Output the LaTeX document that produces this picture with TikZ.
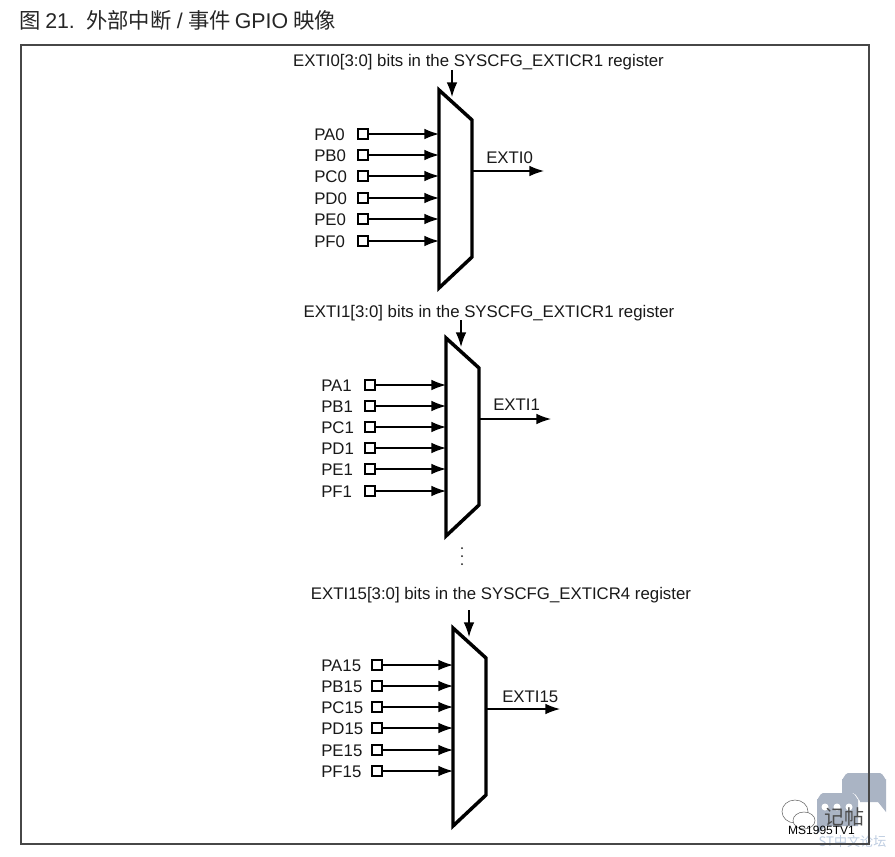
\documentclass[tikz,border=0pt]{standalone}
\usepackage{fontspec}
\setmainfont{Liberation Sans}
\newfontfamily\cjk{Noto Sans CJK SC}
\usetikzlibrary{arrows.meta}
\definecolor{framegray}{gray}{0.28}
\definecolor{bubble}{RGB}{170,180,196}
\definecolor{wmtext}{RGB}{190,205,225}
\tikzset{
  diagram/.style={x=0.75pt,y=-0.75pt},
  lbl/.style={inner sep=0pt,font=\fontsize{12.6}{14}\selectfont,text=black!90},
  portlbl/.style={lbl,anchor=west},
  port/.style={draw=black,line width=1pt,minimum size=7.5pt,inner sep=0pt,fill=white},
  mux/.style={draw=black,line width=2.6pt,miter limit=10},
  sig/.style={draw=black,line width=1pt,-{Latex[length=11pt,width=8pt]}},
}
\newcommand{\muxblock}[9]{%
\coordinate (#1tl) at (#2,#3);
\coordinate (#1tr) at (#2+33,#3+30);
\coordinate (#1br) at (#2+33,#3+167);
\coordinate (#1bl) at (#2,#3+198);
\draw[mux] (#1tl) -- (#1tr) -- (#1br) -- (#1bl) -- cycle;
\foreach \p/\y in {#6}{
  \node[port] (#1p\p) at (#2-76,\y) {};
  \node[portlbl] (#1l\p) at (#5,\y+0.7) {P\p#4};
  \coordinate (#1i\p) at (#2,\y);
  \draw[sig] (#1p\p.east) -- (#1i\p);
}
\coordinate (#1o) at (#2+33,#7);
\coordinate (#1e) at (#8,#7);
\draw[sig] (#1o) -- (#1e);
\coordinate (#1s) at (\selx,#9);
\coordinate (#1d) at (\selx,#9+27);
\draw[sig] (#1s) -- (#1d);
}
\begin{document}
\begin{tikzpicture}[diagram]
\useasboundingbox (0,0) rectangle (895,856);
\fill[white] (0,0) rectangle (895,856);
\node[anchor=west,inner sep=0pt,font=\fontsize{16}{18}\selectfont,text=black!85] (title) at (19,20) {{\cjk 图}\hspace{3.5pt}21.\hspace{8.5pt}{\cjk 外部中断}\hspace{4pt}/\hspace{4pt}{\cjk 事件}\hspace{3pt}GPIO\hspace{4pt}{\cjk 映像}};

% watermark
\fill[bubble] (848,773) -- (880,773) to[out=0,in=-90] (886,779) -- (886,812) -- (878,802) -- (860,802) -- (860,800) to[out=-90,in=0] (853,793) -- (842,793) -- (842,779) to[out=-90,in=180] (848,773) -- cycle;
\fill[bubble] (823,793) -- (852,793) to[out=0,in=-90] (858,799) -- (858,826) -- (826,826) -- (817,834) -- (817,799) to[out=-90,in=180] (823,793) -- cycle;
\foreach \x in {825,837,849}{\fill[white] (\x,807) circle[radius=3.5];}
\draw[black!60,line width=0.4pt,fill=white] (795,811.5) ellipse[x radius=13,y radius=11.5];
\draw[black!60,line width=0.4pt,fill=white] (804,820.5) ellipse[x radius=11,y radius=8.5];
\node[inner sep=0pt,font=\cjk\fontsize{15}{17}\selectfont,text=black!70] (wx) at (844,817) {记帖};
\node[inner sep=0pt,font=\fontsize{9}{10}\selectfont] (ms) at (821.5,830) {MS1995TV1};
\node[inner sep=0pt,font=\cjk\fontsize{9.8}{11}\selectfont,text=wmtext] (st) at (852.5,841) {ST中文论坛};

\draw[framegray,line width=1.6pt] (21,45) rectangle (869,844);

\def\selx{452}
\muxblock{a}{439}{90}{0}{314}{A/134,B/155,C/176,D/198,E/219,F/241}{171}{544}{70}
\node[lbl] (ta) at (478.5,62) {EXTI0[3:0] bits in the SYSCFG\_EXTICR1 register};
\node[portlbl] (oa) at (486,158) {EXTI0};

\def\selx{461}
\muxblock{b}{446}{338}{1}{321}{A/385,B/406,C/427,D/448,E/469,F/491}{419}{551}{320}
\node[lbl] (tb) at (489,313) {EXTI1[3:0] bits in the SYSCFG\_EXTICR1 register};
\node[portlbl] (ob) at (493,405) {EXTI1};

\foreach \y [count=\i] in {548,556,564}{\fill[black!90] (462,\y) circle[radius=1] coordinate (dot\i);}

\def\selx{469}
\muxblock{c}{453}{628}{15}{321}{A/665,B/686,C/707,D/728,E/750,F/771}{709}{560}{610}
\node[lbl] (tc) at (501,595) {EXTI15[3:0] bits in the SYSCFG\_EXTICR4 register};
\node[portlbl] (oc) at (502,697) {EXTI15};
\end{tikzpicture}
\end{document}
